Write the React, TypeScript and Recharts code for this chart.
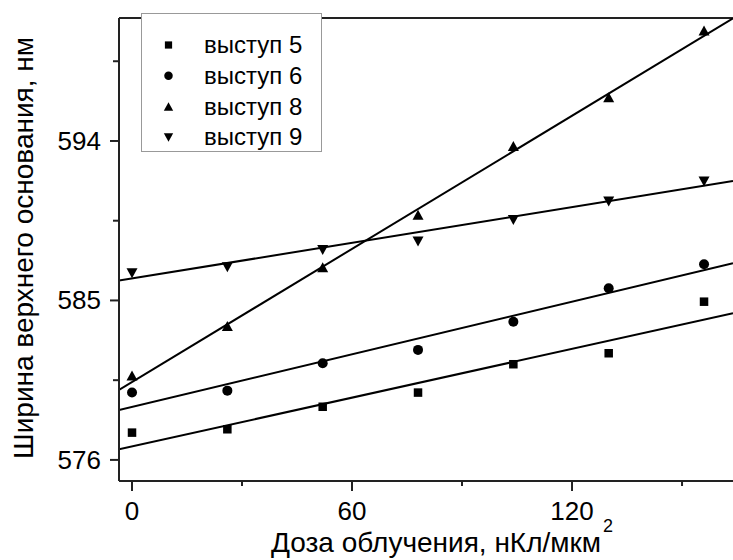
import React from 'react';
import { ComposedChart, Line, Scatter, XAxis, YAxis, ReferenceLine, Label, Legend } from 'recharts';

// --- DATA ---
const doses = [0, 26, 52, 78, 104, 130, 156];
const ledge5 = [577.54, 577.73, 579.0, 579.8, 581.4, 582.02, 584.93];
const ledge6 = [579.8, 579.91, 581.46, 582.21, 583.8, 585.69, 587.04];
const ledge8 = [580.76, 583.56, 586.87, 589.83, 593.72, 596.47, 600.23];
const ledge9 = [586.54, 586.87, 587.85, 588.32, 589.54, 590.58, 591.71];

// fitted lines, read at the two edges of the plot
const fitX = [-3.55, 163.9];
const fit5 = [576.6, 584.28];
const fit6 = [578.82, 587.1];
const fit8 = [579.95, 600.92];
const fit9 = [586.12, 591.74];

const xTicks = [0, 30, 60, 90, 120, 150];
const xLabels = [0, 60, 120];
const yTicks = [576, 580.5, 585, 589.5, 594, 598.5];
const yLabels = [576, 585, 594];

const X_DOMAIN = [-3.55, 163.9];
const Y_DOMAIN = [574.81, 600.94];

const FONT = '"Liberation Sans", Arial, sans-serif';
const INK = '#000';
const AXIS = '#222';

const toPoints = (xs: number[], ys: number[]) => xs.map((x, i) => ({ x, y: ys[i] }));

// --- MARKERS ---
const Marker = ({ kind, cx, cy, k = 1 }: { kind: string; cx: number; cy: number; k?: number }) => {
  if (kind === 'square') {
    const s = 8.5 * k;
    return <rect x={cx - s / 2} y={cy - s / 2} width={s} height={s} fill={INK} />;
  }
  if (kind === 'circle') return <circle cx={cx} cy={cy} r={5 * k} fill={INK} />;
  const w = 11 * k;
  const h = 10 * k;
  if (kind === 'up') {
    return <path d={`M${cx - w / 2},${cy + h / 2} L${cx + w / 2},${cy + h / 2} L${cx},${cy - h / 2} Z`} fill={INK} />;
  }
  return <path d={`M${cx - w / 2},${cy - h / 2} L${cx + w / 2},${cy - h / 2} L${cx},${cy + h / 2} Z`} fill={INK} />;
};

const shapeOf = (kind: string) => (props: any) => <Marker kind={kind} cx={props.cx} cy={props.cy} />;

// --- TICKS ---
const XTick = ({ x, y, payload }: any) => {
  const major = xLabels.includes(payload.value);
  return (
    <g>
      <line x1={x} x2={x} y1={y} y2={y + (major ? 10 : 5)} stroke={AXIS} strokeWidth={2} />
      {major && (
        <text x={x} y={y + 39} textAnchor="middle" fontSize={26} fontFamily={FONT} fill={INK}>
          {payload.value}
        </text>
      )}
    </g>
  );
};

const YTick = ({ x, y, payload }: any) => {
  const major = yLabels.includes(payload.value);
  return (
    <g>
      <line x1={x} x2={x - (major ? 9 : 6)} y1={y} y2={y} stroke={AXIS} strokeWidth={2} />
      {major && (
        <text x={x - 18} y={y + 9} textAnchor="end" fontSize={26} fontFamily={FONT} fill={INK}>
          {payload.value}
        </text>
      )}
    </g>
  );
};

// --- LEGEND ---
const legendItems = [
  { kind: 'square', name: 'выступ 5' },
  { kind: 'circle', name: 'выступ 6' },
  { kind: 'up', name: 'выступ 8' },
  { kind: 'down', name: 'выступ 9' },
];

const LegendBox = () => (
  <svg width={181} height={139}>
    <rect x={0.5} y={0.5} width={180} height={138} fill="#fff" stroke="#999" strokeWidth={1} />
    {legendItems.map((it, i) => (
      <g key={it.name}>
        <Marker kind={it.kind} cx={27.5} cy={32 + i * 30.8} k={0.85} />
        <text x={63} y={32 + i * 30.8 + 8} fontSize={24} fontFamily={FONT} fill={INK}>
          {it.name}
        </text>
      </g>
    ))}
  </svg>
);

export default function App() {
  return (
    <div style={{ position: 'absolute', left: 0, top: 0, width: 733, height: 560, background: '#fff' }}>
      <ComposedChart width={733} height={560} margin={{ top: 18, right: 0, bottom: 39, left: 19 }}>
        <XAxis
          type="number"
          dataKey="x"
          domain={X_DOMAIN}
          allowDataOverflow
          ticks={xTicks}
          interval={0}
          tick={<XTick />}
          tickLine={false}
          tickSize={0}
          tickMargin={0}
          axisLine={{ stroke: AXIS, strokeWidth: 2 }}
          height={40}
        >
          <Label
            content={() => (
              <text x={271} y={552} fontSize={28} fontFamily={FONT} fill={INK}>
                Доза облучения, нКл/мкм
                <tspan fontSize={18} dx={2} dy={-20}>2</tspan>
              </text>
            )}
          />
        </XAxis>
        <YAxis
          type="number"
          dataKey="y"
          domain={Y_DOMAIN}
          allowDataOverflow
          ticks={yTicks}
          interval={0}
          tick={<YTick />}
          tickLine={false}
          tickSize={0}
          tickMargin={0}
          axisLine={{ stroke: AXIS, strokeWidth: 2 }}
          width={100}
        >
          <Label
            content={() => (
              <text
                x={33}
                y={248}
                transform="rotate(-90, 33, 248)"
                textAnchor="middle"
                fontSize={28}
                fontFamily={FONT}
                fill={INK}
              >
                Ширина верхнего основания, нм
              </text>
            )}
          />
        </YAxis>
        <ReferenceLine y={Y_DOMAIN[1]} stroke={AXIS} strokeWidth={2} />

        <Line data={toPoints(fitX, fit5)} dataKey="y" stroke={INK} strokeWidth={2} dot={false} isAnimationActive={false} legendType="none" />
        <Line data={toPoints(fitX, fit6)} dataKey="y" stroke={INK} strokeWidth={2} dot={false} isAnimationActive={false} legendType="none" />
        <Line data={toPoints(fitX, fit8)} dataKey="y" stroke={INK} strokeWidth={2} dot={false} isAnimationActive={false} legendType="none" />
        <Line data={toPoints(fitX, fit9)} dataKey="y" stroke={INK} strokeWidth={2} dot={false} isAnimationActive={false} legendType="none" />

        <Scatter name="выступ 5" data={toPoints(doses, ledge5)} dataKey="y" shape={shapeOf('square')} isAnimationActive={false} />
        <Scatter name="выступ 6" data={toPoints(doses, ledge6)} dataKey="y" shape={shapeOf('circle')} isAnimationActive={false} />
        <Scatter name="выступ 8" data={toPoints(doses, ledge8)} dataKey="y" shape={shapeOf('up')} isAnimationActive={false} />
        <Scatter name="выступ 9" data={toPoints(doses, ledge9)} dataKey="y" shape={shapeOf('down')} isAnimationActive={false} />

        <Legend
          layout="vertical"
          align="center"
          verticalAlign="middle"
          content={() => <LegendBox />}
          wrapperStyle={{ left: 141, top: 13, width: 181, height: 139 }}
        />
      </ComposedChart>
    </div>
  );
}
